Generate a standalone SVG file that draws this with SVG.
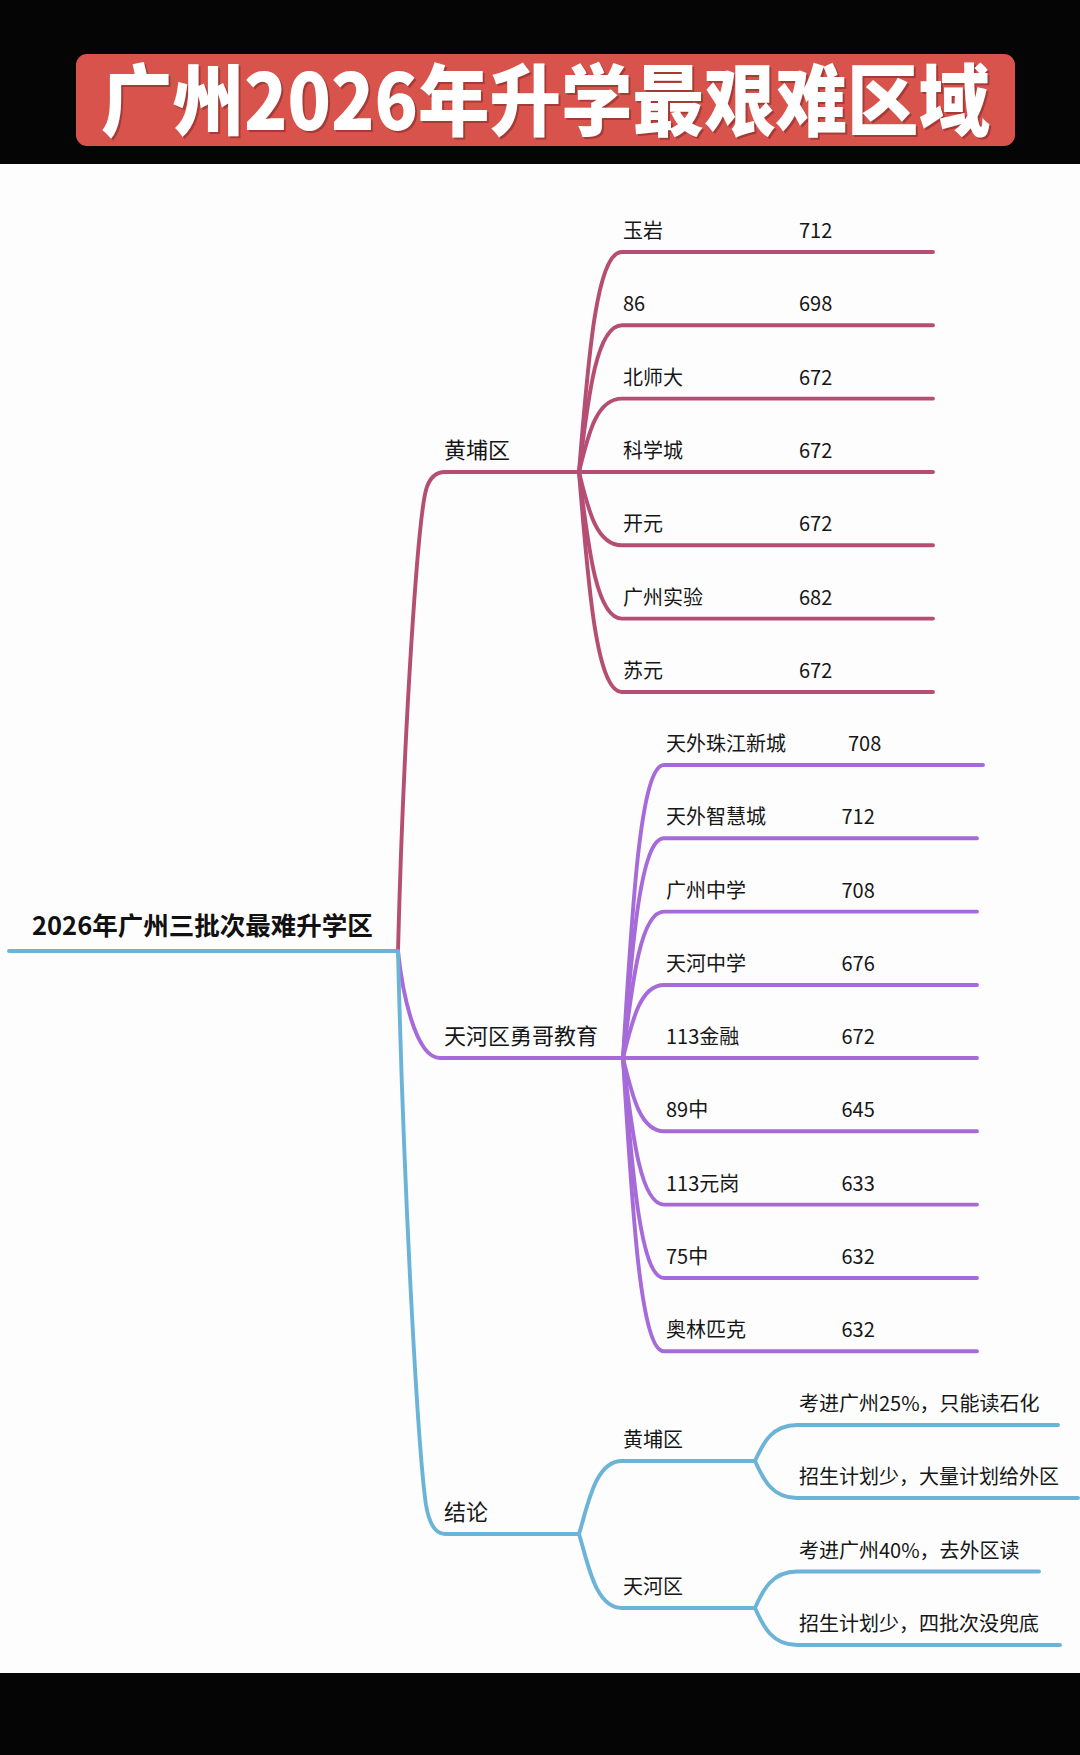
<svg xmlns="http://www.w3.org/2000/svg" width="1080" height="1755" viewBox="0 0 1080 1755">
<style>
.t{font-family:"Noto Sans CJK SC","Noto Sans",sans-serif;fill:#161616;font-weight:400}
.l1{font-size:22px}
.l2{font-size:20px}
.root{font-size:25.5px;font-weight:bold;fill:#111}
.title{font-family:"Noto Sans CJK SC","Noto Sans",sans-serif;font-size:78px;font-weight:900}
.c{fill:none;stroke-width:3.9;stroke-linecap:round;stroke-linejoin:round}
.r{stroke:#b54e72}
.p{stroke:#a66bd8}
.b{stroke:#6cb3d8}
</style>
<rect x="0" y="0" width="1080" height="1755" fill="#fdfdfd"/>
<rect x="0" y="0" width="1080" height="164" fill="#050505"/>
<rect x="0" y="1673" width="1080" height="82" fill="#050505"/>
<g id="title">
<rect x="76" y="54" width="939" height="92" rx="11" fill="#d8534c"/>
<text class="title" x="103" y="132" fill="#6a1f1b" fill-opacity="0.45" textLength="889" lengthAdjust="spacingAndGlyphs">广州2026年升学最艰难区域</text>
<text class="title" x="101" y="130" fill="#fff" textLength="889" lengthAdjust="spacingAndGlyphs">广州2026年升学最艰难区域</text>
</g>
<g id="connectors">
<path class="c b" d="M9,951 L398,951"/>
<path class="c r" d="M398,951 C404,720 418,520 426,490 Q431,472 445,472 L579,472"/>
<path class="c p" d="M398,951 C402,990 415,1058 440,1058 L623,1058"/>
<path class="c b" d="M398,951 C404,1200 418,1450 426,1505 Q431,1534 445,1534 L579,1534"/>
<path class="c r" d="M579,472 C588,362 596,252 622,252 L933,252"/>
<path class="c r" d="M579,472 C588,398.6 596,325.3 622,325.3 L933,325.3"/>
<path class="c r" d="M579,472 C588,435.3 596,398.6 622,398.6 L933,398.6"/>
<path class="c r" d="M579,472 L933,472"/>
<path class="c r" d="M579,472 C588,508.7 596,545.3 622,545.3 L933,545.3"/>
<path class="c r" d="M579,472 C588,545.3 596,618.6 622,618.6 L933,618.6"/>
<path class="c r" d="M579,472 C588,582 596,692 622,692 L933,692"/>
<path class="c p" d="M623,1058 C632,911.5 640,765 664,765 L983,765"/>
<path class="c p" d="M623,1058 C632,948.2 640,838.3 664,838.3 L977,838.3"/>
<path class="c p" d="M623,1058 C632,984.8 640,911.6 664,911.6 L977,911.6"/>
<path class="c p" d="M623,1058 C632,1021.5 640,985 664,985 L977,985"/>
<path class="c p" d="M623,1058 L977,1058"/>
<path class="c p" d="M623,1058 C632,1094.7 640,1131.3 664,1131.3 L977,1131.3"/>
<path class="c p" d="M623,1058 C632,1131.3 640,1204.6 664,1204.6 L977,1204.6"/>
<path class="c p" d="M623,1058 C632,1168 640,1278 664,1278 L977,1278"/>
<path class="c p" d="M623,1058 C632,1204.7 640,1351.3 664,1351.3 L977,1351.3"/>
<path class="c b" d="M579,1534 C588,1505 595,1461 622,1461 L755,1461"/>
<path class="c b" d="M579,1534 C588,1563 595,1608 622,1608 L755,1608"/>
<path class="c b" d="M755,1461 C763,1443 772,1425 797,1425 L1058,1425"/>
<path class="c b" d="M755,1461 C763,1479 772,1498 797,1498 L1078,1498"/>
<path class="c b" d="M755,1608 C763,1590 772,1571.5 797,1571.5 L1039,1571.5"/>
<path class="c b" d="M755,1608 C763,1626 772,1645 797,1645 L1060,1645"/>
</g>
<g id="root"><text class="t root" x="32" y="935">2026年广州三批次最难升学区</text></g>
<g id="huangpu"><text class="t l1" x="444" y="458">黄埔区</text></g>
<g id="hp-yuyan"><text class="t l2" x="623" y="238">玉岩</text><text class="t l2" x="799" y="238">712</text></g>
<g id="hp-86"><text class="t l2" x="623" y="311.3">86</text><text class="t l2" x="799" y="311.3">698</text></g>
<g id="hp-bsd"><text class="t l2" x="623" y="384.6">北师大</text><text class="t l2" x="799" y="384.6">672</text></g>
<g id="hp-kxc"><text class="t l2" x="623" y="458">科学城</text><text class="t l2" x="799" y="458">672</text></g>
<g id="hp-ky"><text class="t l2" x="623" y="531.3">开元</text><text class="t l2" x="799" y="531.3">672</text></g>
<g id="hp-gzsy"><text class="t l2" x="623" y="604.6">广州实验</text><text class="t l2" x="799" y="604.6">682</text></g>
<g id="hp-sy"><text class="t l2" x="623" y="678">苏元</text><text class="t l2" x="799" y="678">672</text></g>
<g id="tianhe"><text class="t l1" x="444" y="1044">天河区勇哥教育</text></g>
<g id="th-1"><text class="t l2" x="666" y="751">天外珠江新城</text><text class="t l2" x="848" y="751">708</text></g>
<g id="th-2"><text class="t l2" x="666" y="824.3">天外智慧城</text><text class="t l2" x="841.5" y="824.3">712</text></g>
<g id="th-3"><text class="t l2" x="666" y="897.6">广州中学</text><text class="t l2" x="841.5" y="897.6">708</text></g>
<g id="th-4"><text class="t l2" x="666" y="971">天河中学</text><text class="t l2" x="841.5" y="971">676</text></g>
<g id="th-5"><text class="t l2" x="666" y="1044">113金融</text><text class="t l2" x="841.5" y="1044">672</text></g>
<g id="th-6"><text class="t l2" x="666" y="1117.3">89中</text><text class="t l2" x="841.5" y="1117.3">645</text></g>
<g id="th-7"><text class="t l2" x="666" y="1190.6">113元岗</text><text class="t l2" x="841.5" y="1190.6">633</text></g>
<g id="th-8"><text class="t l2" x="666" y="1264">75中</text><text class="t l2" x="841.5" y="1264">632</text></g>
<g id="th-9"><text class="t l2" x="666" y="1337.3">奥林匹克</text><text class="t l2" x="841.5" y="1337.3">632</text></g>
<g id="jielun"><text class="t l1" x="444" y="1520">结论</text></g>
<g id="jl-hp"><text class="t l2" x="623" y="1447">黄埔区</text></g>
<g id="jl-th"><text class="t l2" x="623" y="1594">天河区</text></g>
<g id="jl-hp-1"><text class="t l2" x="799" y="1411">考进广州25%，只能读石化</text></g>
<g id="jl-hp-2"><text class="t l2" x="799" y="1484">招生计划少，大量计划给外区</text></g>
<g id="jl-th-1"><text class="t l2" x="799" y="1557.5">考进广州40%，去外区读</text></g>
<g id="jl-th-2"><text class="t l2" x="799" y="1631">招生计划少，四批次没兜底</text></g>
</svg>
